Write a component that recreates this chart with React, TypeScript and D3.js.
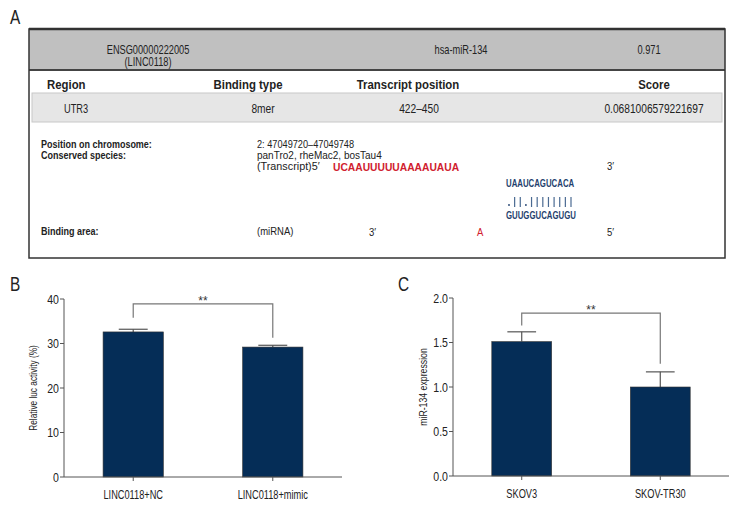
import React from "react";
import * as d3 from "d3";

const FONT = "'Liberation Sans', Arial, sans-serif";
const SX = 0.77; // horizontal condensation to mimic a condensed face

// Panel A table
const headerMain = ["ENSG00000222005", "hsa-miR-134", "0.971"];
const headerSub = ["(LINC0118)", "", ""];
const colHeaders = ["Region", "Binding type", "Transcript position", "Score"];
const rowValues = ["UTR3", "8mer", "422–450", "0.0681006579221697"];
const infoLabels = ["Position on chromosome:", "Conserved species:"];
const infoValues = ["2: 47049720–47049748", "panTro2, rheMac2, bosTau4"];
const transcriptSeq = "UCAAUUUUUAAAAUAUA";
const pairTop = "UAAUCAGUCACA";
const pairSymbols = [".", "|", "|", ".", "|", "|", "|", "|", "|", "|", "|", "|"];
const pairBottom = "GUUGGUCAGUGU";

// Panel B
const bCategories = ["LINC0118+NC", "LINC0118+mimic"];
const bValues = [32.6, 29.2];
const bErrors = [0.6, 0.4];
const bTicks = [0, 10, 20, 30, 40];

// Panel C
const cCategories = ["SKOV3", "SKOV-TR30"];
const cValues = [1.51, 1.0];
const cErrors = [0.11, 0.17];
const cTicks = [0, 0.5, 1.0, 1.5, 2.0];

const BAR = "#052d57";
const AXIS = "#555";

type TP = {
  x: number; y: number; children: React.ReactNode; size?: number; anchor?: string;
  bold?: boolean; fill?: string; sx?: number; rotate?: number;
};
function T({ x, y, children, size = 12, anchor = "start", bold = false, fill = "#222", sx = SX, rotate = 0 }: TP) {
  return (
    <text
      transform={`translate(${x},${y})${rotate ? ` rotate(${rotate})` : ""} scale(${sx},1)`}
      textAnchor={anchor}
      fontSize={size}
      fontWeight={bold ? "bold" : "normal"}
      fill={fill}
      fontFamily={FONT}
    >
      {children}
    </text>
  );
}

type BarProps = {
  x0: number; x1: number; y0: number; y1: number;
  domain: [number, number];
  cats: string[]; vals: number[]; errs: number[]; ticks: number[];
  fmt: (v: number) => string;
  ylabel: string; ylabelX: number; ylabelSx: number;
  bracketY: number; leftEnd: number; rightEnd: number;
};

function BarPanel(p: BarProps) {
  const y = d3.scaleLinear().domain(p.domain).range([p.y0, p.y1]);
  const x = d3.scaleBand().domain(p.cats).range([p.x0, p.x1]).paddingInner(0.568).paddingOuter(0.28);
  const cx = (c: string) => (x(c) as number) + x.bandwidth() / 2;
  const capW = x.bandwidth() * 0.48;
  const bracketPx = y(p.bracketY);
  return (
    <g>
      {p.cats.map((c, i) => (
        <g key={c}>
          <line x1={cx(c)} x2={cx(c)} y1={y(p.vals[i])} y2={y(p.vals[i] + p.errs[i])} stroke={AXIS} strokeWidth={1.2} />
          <line x1={cx(c) - capW / 2} x2={cx(c) + capW / 2} y1={y(p.vals[i] + p.errs[i])} y2={y(p.vals[i] + p.errs[i])} stroke={AXIS} strokeWidth={1.2} />
          <rect x={x(c)} y={y(p.vals[i])} width={x.bandwidth()} height={y(p.domain[0]) - y(p.vals[i])} fill={BAR} stroke="#333" strokeWidth={0.6} />
          <line x1={cx(c)} x2={cx(c)} y1={p.y0} y2={p.y0 + 4} stroke={AXIS} strokeWidth={1} />
          <T x={cx(c)} y={p.y0 + 22} anchor="middle">{c}</T>
        </g>
      ))}
      <line x1={p.x0} x2={p.x1} y1={p.y0} y2={p.y0} stroke={AXIS} strokeWidth={1} />
      <line x1={p.x0} x2={p.x0} y1={p.y0} y2={p.y1} stroke={AXIS} strokeWidth={1} />
      {p.ticks.map((t) => (
        <g key={t}>
          <line x1={p.x0 - 4} x2={p.x0} y1={y(t)} y2={y(t)} stroke={AXIS} strokeWidth={1} />
          <T x={p.x0 - 5} y={y(t) + 4.5} anchor="end" sx={0.88}>{p.fmt(t)}</T>
        </g>
      ))}
      <T x={p.ylabelX} y={(p.y0 + p.y1) / 2} anchor="middle" rotate={-90} size={11.5} sx={p.ylabelSx}>{p.ylabel}</T>
      <path
        d={`M${cx(p.cats[0])},${y(p.leftEnd)}V${bracketPx}H${cx(p.cats[1])}V${y(p.rightEnd)}`}
        fill="none" stroke="#777" strokeWidth={1.2}
      />
      <T x={(cx(p.cats[0]) + cx(p.cats[1])) / 2} y={bracketPx + 1} anchor="middle" size={12} fill="#333" sx={1}>**</T>
    </g>
  );
}

export default function App() {
  const L = 29, R = 725;
  const headerX = [148, 461, 649];
  const colX = [47, 248, 408, 654];
  const rowX = [64, 263, 419, 654];
  const symX = d3.scalePoint().domain(pairTop.split("").map((_, i) => String(i))).range([509, 571]);
  return (
    <svg width={756} height={528} style={{ position: "absolute", left: 0, top: 0, background: "#fff" }}>
      <rect width={756} height={528} fill="#fff" />
      <g>
        <T x={10} y={24} size={20}>A</T>
        {/* header */}
        <rect x={L} y={29} width={R - L} height={41} fill="#c0c0c0" />
        <line x1={L} x2={R} y1={29} y2={29} stroke="#333" strokeWidth={2.5} />
        <line x1={L} x2={R} y1={70} y2={70} stroke="#444" strokeWidth={2} />
        {headerMain.map((h, i) => (
          <T key={h} x={headerX[i]} y={54} anchor="middle">{h}</T>
        ))}
        {headerSub.map((h, i) => h ? <T key={h} x={headerX[i]} y={66} anchor="middle">{h}</T> : null)}
        {/* column headers */}
        {colHeaders.map((c, i) => (
          <T key={c} x={colX[i]} y={89} anchor={i === 0 ? "start" : "middle"} bold sx={0.95}>{c}</T>
        ))}
        <rect x={32} y={93} width={690} height={29} fill="#e6e6e6" stroke="#c8c8c8" strokeWidth={1} />
        {rowValues.map((v, i) => (
          <T key={v} x={rowX[i]} y={113} anchor={i === 0 ? "start" : "middle"} sx={i === 0 ? SX : 0.85}>{v}</T>
        ))}
        {/* info */}
        {infoLabels.map((l, i) => (
          <T key={l} x={41} y={147.5 + i * 11} bold size={10} sx={0.9}>{l}</T>
        ))}
        {infoValues.map((l, i) => (
          <T key={l} x={257} y={147.5 + i * 11} size={10} sx={i === 0 ? 0.92 : 1.0}>{l}</T>
        ))}
        <T x={257} y={170} size={10} sx={1.08}>(Transcript)5′</T>
        <T x={333} y={170.5} size={10.5} fill="#d0202e" bold sx={0.98}>{transcriptSeq}</T>
        <T x={607} y={170} size={10} sx={0.95}>3′</T>
        <T x={506} y={187} size={11.5} fill="#1f3f6e" bold sx={0.68}>{pairTop}</T>
        {pairSymbols.map((s, i) =>
          s === "|" ? (
            <line key={i} x1={symX(String(i)) as number} x2={symX(String(i)) as number} y1={197} y2={207} stroke="#4a6a92" strokeWidth={1.2} />
          ) : (
            <circle key={i} cx={symX(String(i)) as number} cy={205} r={0.9} fill="#1f3f6e" />
          )
        )}
        <T x={506} y={219} size={11.5} fill="#1f3f6e" bold sx={0.68}>{pairBottom}</T>
        <T x={41} y={235} bold size={10} sx={0.9}>Binding area:</T>
        <T x={257} y={235} size={10} sx={0.95}>(miRNA)</T>
        <T x={369} y={236} size={10} sx={0.95}>3′</T>
        <T x={477} y={236} fill="#d0202e" size={10} sx={0.95}>A</T>
        <T x={607} y={236} size={10} sx={0.95}>5′</T>
        <rect x={L} y={29} width={R - L} height={229} fill="none" stroke="#333" strokeWidth={1.5} />
        <T x={10} y={291} size={20}>B</T>
        <T x={398} y={291} size={20}>C</T>
      </g>
      <BarPanel x0={64} x1={342} y0={477} y1={299} domain={[0, 40]} cats={bCategories} vals={bValues} errs={bErrors}
        ticks={bTicks} fmt={(v) => String(v)} ylabel="Relative luc activity (%)" ylabelX={37} ylabelSx={0.72}
        bracketY={38.9} leftEnd={35.8} rightEnd={31.3} />
      <BarPanel x0={453} x1={729} y0={476} y1={298} domain={[0, 2]} cats={cCategories} vals={cValues} errs={cErrors}
        ticks={cTicks} fmt={(v) => v.toFixed(1)} ylabel="miR-134 expression" ylabelX={427} ylabelSx={0.76}
        bracketY={1.83} leftEnd={1.69} rightEnd={1.26} />
    </svg>
  );
}
